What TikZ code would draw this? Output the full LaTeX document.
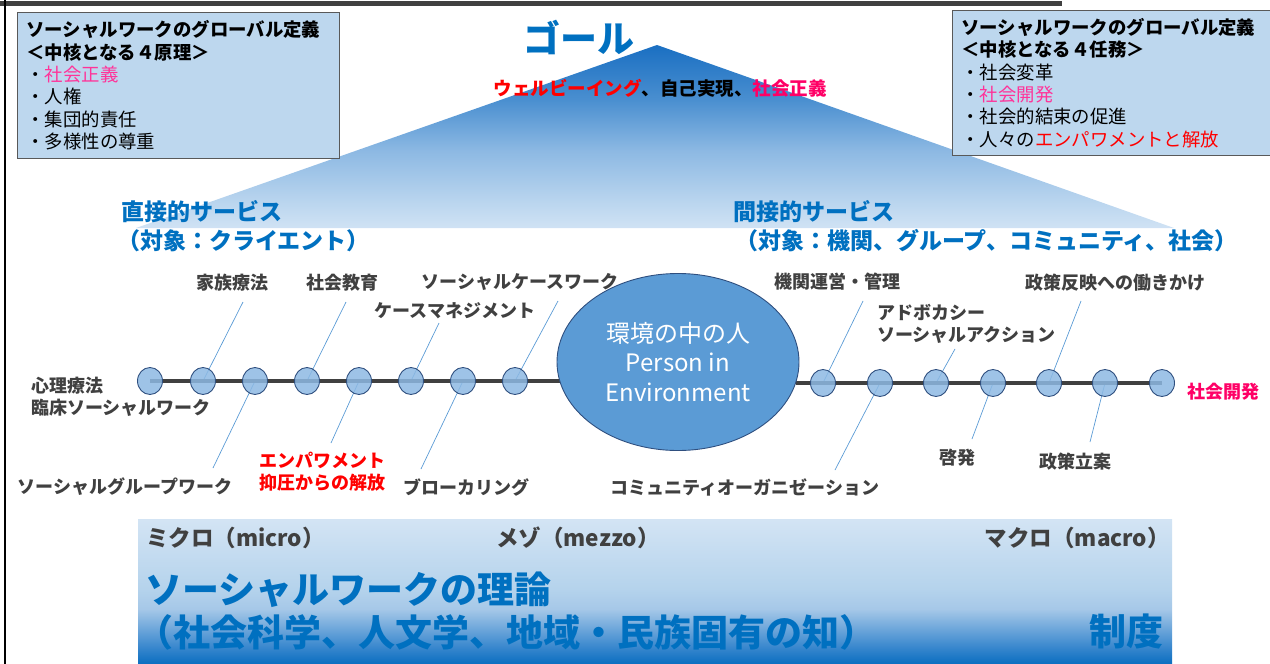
\documentclass[tikz,border=0pt]{standalone}
\usepackage{fontspec}
\setmainfont{Noto Sans CJK JP}
\usetikzlibrary{shapes.geometric}
\definecolor{boxfill}{HTML}{BDD7EE}
\definecolor{boxline}{HTML}{595959}
\definecolor{swblue}{HTML}{0070C0}
\definecolor{darktext}{HTML}{404040}
\definecolor{pinkred}{HTML}{FF0066}
\definecolor{boxpink}{HTML}{FF3399}
\definecolor{ellfill}{HTML}{5B9BD5}
\definecolor{ellline}{HTML}{2F4F7F}
\definecolor{dotfill}{HTML}{8DB9E3}
\definecolor{leadcol}{HTML}{5B9BD5}
\definecolor{barcol}{HTML}{404040}
% triangle shading colours (bottom -> top)
\definecolor{tA}{HTML}{D0E2F4}
\definecolor{tB}{HTML}{B8D4EE}
\definecolor{tC}{HTML}{8DB9E3}
\definecolor{tD}{HTML}{4A8FD0}
\definecolor{tE}{HTML}{1A6FC2}
% band shading colours (bottom -> top)
\definecolor{bA}{HTML}{0A6EC0}
\definecolor{bB}{HTML}{3A88CE}
\definecolor{bC}{HTML}{A6C8E8}
\definecolor{bD}{HTML}{B5D3EC}
\definecolor{bE}{HTML}{D3E4F4}
\pgfdeclareverticalshading{trishade}{100bp}{color(0bp)=(tA); color(25bp)=(tA); color(32.7bp)=(tB); color(46bp)=(tC); color(60bp)=(tD); color(75bp)=(tE); color(100bp)=(tE)}
\pgfdeclareverticalshading{bandshade}{100bp}{color(0bp)=(bA); color(25bp)=(bA); color(31bp)=(bB); color(44bp)=(bC); color(51bp)=(bD); color(75bp)=(bE); color(100bp)=(bE)}
\tikzset{
  lbl/.style={font=\bfseries\fontsize{18}{22}\selectfont, text=darktext, inner sep=0pt, align=center},
  redlbl/.style={lbl, text=red},
  dotnode/.style={ellipse, draw=ellline, line width=0.9pt, fill=dotfill, fill opacity=0.85, minimum width=25pt, minimum height=27pt, inner sep=0pt},
  leader/.style={draw=leadcol, line width=0.7pt},
  infobox/.style={draw=boxline, line width=0.8pt, fill=boxfill, inner xsep=9pt, inner ysep=0pt, align=left, text width=304pt, font=\fontsize{18.4}{22.4}\selectfont, anchor=north west},
  svc/.style={font=\bfseries\fontsize{23}{28}\selectfont, text=swblue, inner sep=0pt, anchor=west},
  scalelbl/.style={font=\bfseries\fontsize{22.5}{24}\selectfont, text=darktext, inner sep=0pt},
  theory/.style={font=\bfseries\fontsize{37}{40}\selectfont, text=swblue, inner sep=0pt},
  timeline/.style={draw=barcol, line width=4.5pt}
}
\begin{document}
\begin{tikzpicture}[x=1pt,y=-1pt]
\useasboundingbox (0,0) rectangle (1270,664);
% frame lines
\fill[barcol] (0,1) rectangle (1062,6);
\fill[black] (4,0) rectangle (6,664);

% goal triangle
\shade[shading=trishade] (657,45) -- (1174,228) -- (136,228) -- cycle;

% info boxes
\node[infobox, minimum width=322pt, minimum height=146pt] (lbox) at (17,12)
 {\textbf{ソーシャルワークのグローバル定義}\\
  \textbf{＜中核となる４原理＞}\\
  ・\textcolor{boxpink}{社会正義}\\
  ・人権\\
  ・集団的責任\\
  ・多様性の尊重};
\node[infobox, minimum width=322pt, minimum height=145pt] (rbox) at (952,10)
 {\textbf{ソーシャルワークのグローバル定義}\\
  \textbf{＜中核となる４任務＞}\\
  ・社会変革\\
  ・\textcolor{boxpink}{社会開発}\\
  ・社会的結束の促進\\
  ・人々の\textcolor{red}{エンパワメントと解放}};

% goal texts
\node[font=\bfseries\fontsize{37}{40}\selectfont, text=swblue, inner sep=0pt] (goal) at (579,37) {ゴール};
\node[font=\bfseries\fontsize{18.5}{22}\selectfont, inner sep=0pt] (wb) at (660,88)
 {\textcolor{red}{ウェルビーイング}、自己実現、\textcolor{pinkred}{社会正義}};

% service texts
\node[svc] (dsv) at (121,212) {直接的サービス};
\node[svc] (dsv2) at (117,241) {（対象：クライエント）};
\node[svc] (isv) at (733,212) {間接的サービス};
\node[svc] (isv2) at (735,241) {（対象：機関、グループ、コミュニティ、社会）};

% bottom band
\shade[shading=bandshade] (138,519) rectangle (1172,664);
\node[scalelbl, anchor=west] (micro) at (146,538) {ミクロ（micro）};
\node[scalelbl, anchor=west] (mezzo) at (496,538) {メゾ（mezzo）};
\node[scalelbl, anchor=east] (macro) at (1170,538) {マクロ（macro）};
\node[theory, anchor=west] (th1) at (145,590) {ソーシャルワークの理論};
\node[theory, anchor=west] (th2) at (136,632) {（社会科学、人文学、地域・民族固有の知）};
\node[theory, anchor=east] (inst) at (1164,632) {制度};

% circles (positions)
\coordinate (L1) at (150,381); \coordinate (L2) at (203,381);
\coordinate (L3) at (255,381); \coordinate (L4) at (307,381);
\coordinate (L5) at (359,381); \coordinate (L6) at (411,381);
\coordinate (L7) at (463,381); \coordinate (L8) at (515,381);
\coordinate (R1) at (823,383); \coordinate (R2) at (880,383);
\coordinate (R3) at (936,383); \coordinate (R4) at (993,383);
\coordinate (R5) at (1049,383); \coordinate (R6) at (1105,383);
\coordinate (R7) at (1162,383);

% labels
\node[lbl] (famt) at (232,283) {家族療法};
\node[lbl] (soced) at (342,283) {社会教育};
\node[lbl] (scw) at (520,282) {ソーシャルケースワーク};
\node[lbl] (cm) at (455,311) {ケースマネジメント};
\node[lbl, align=left, anchor=west] (psy) at (31,397) {心理療法\\臨床ソーシャルワーク};
\node[lbl] (sgw) at (125,487) {ソーシャルグループワーク};
\node[redlbl] (emp) at (322,472) {エンパワメント\\抑圧からの解放};
\node[lbl] (brk) at (466,487) {ブローカリング};
\node[lbl] (adm) at (837,282) {機関運営・管理};
\node[lbl, align=left, anchor=west] (adv) at (877,324) {アドボカシー\\ソーシャルアクション};
\node[lbl] (pol) at (1115,283) {政策反映への働きかけ};
\node[lbl] (co) at (745,487) {コミュニティオーガニゼーション};
\node[lbl] (enl) at (957,458) {啓発};
\node[lbl] (plan) at (1075,462) {政策立案};
\node[lbl, text=pinkred] (sdev) at (1223,392) {社会開発};

% leader start points
\coordinate (famtA) at (243,302);
\coordinate (socedA) at (346,302);
\coordinate (scwA) at (558,301);
\coordinate (cmA) at (439,323);
\coordinate (sgwA) at (213,468);
\coordinate (empA) at (331,443);
\coordinate (brkA) at (421,469);
\coordinate (admA) at (863,301);
\coordinate (advA) at (955,349);
\coordinate (polA) at (1081,301);
\coordinate (coA) at (835,470);
\coordinate (enlA) at (972,439);
\coordinate (planA) at (1090,442);

\draw[leader] (famtA) -- (L2);
\draw[leader] (socedA) -- (L4);
\draw[leader] (scwA) -- (L8);
\draw[leader] (cmA) -- (L6);
\draw[leader] (sgwA) -- (L3);
\draw[leader] (empA) -- (L5);
\draw[leader] (brkA) -- (L7);
\draw[leader] (admA) -- (R1);
\draw[leader] (advA) -- (R3);
\draw[leader] (polA) -- (R5);
\draw[leader] (coA) -- (R2);
\draw[leader] (enlA) -- (R4);
\draw[leader] (planA) -- (R6);

% timeline
\draw[timeline] (L1) -- (560,381);
\draw[timeline] (796,383) -- (R7);

% person in environment
\node[ellipse, draw=ellline, line width=0.9pt, fill=ellfill, minimum width=242pt, minimum height=177pt, inner sep=0pt,
      text=white, align=center, font=\fontsize{24}{29.5}\selectfont] (pie) at (678,362)
 {環境の中の人\\Person in\\Environment};

% circle nodes
\foreach \c in {L1,L2,L3,L4,L5,L6,L7,L8,R1,R2,R3,R4,R5,R6,R7}
  \node[dotnode] (d\c) at (\c) {};
\end{tikzpicture}
\end{document}
